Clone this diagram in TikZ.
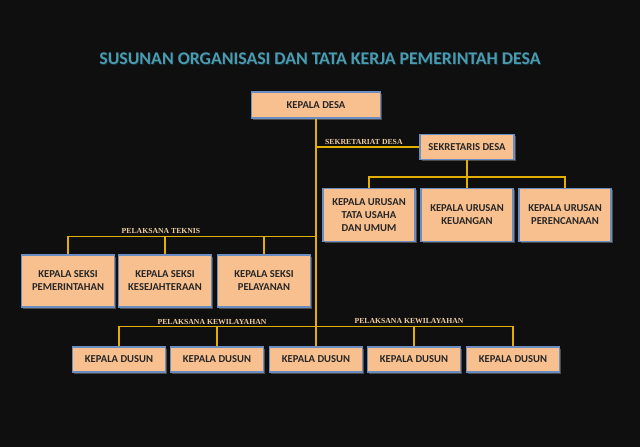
\documentclass[tikz,border=0pt]{standalone}
\usepackage{fontspec}
\setmainfont{Carlito}
\newfontfamily\lblfont{Liberation Serif}
\usetikzlibrary{shadows}
\definecolor{bgc}{HTML}{0F0F0F}
\definecolor{boxfill}{HTML}{F9C08F}
\definecolor{boxline}{HTML}{6A8EC2}
\definecolor{conn}{HTML}{E2B000}
\definecolor{titlec}{HTML}{4A9AB0}
\definecolor{lblc}{HTML}{EFCFA2}
\tikzset{
  orgbox/.style={draw=boxline, line width=1.3pt, fill=boxfill, font=\bfseries\fontsize{10.6}{13}\selectfont,
    text=black!85, align=center, inner sep=0pt,
    drop shadow={shadow xshift=1.6pt, shadow yshift=-1.6pt, fill=gray!60!black, opacity=1}},
  link/.style={draw=conn, line width=1.4pt},
  lbl/.style={text=lblc, font=\lblfont\bfseries\fontsize{7.7}{9}\selectfont, inner sep=0pt}
}
\begin{document}
\begin{tikzpicture}[x=1pt,y=-1pt]
\fill[bgc] (0,0) rectangle (640,447);
\useasboundingbox (0,0) rectangle (640,447);
\node[text=black!70!titlec, font=\bfseries\fontsize{17.8}{21}\selectfont] at (320.8,59.8) {SUSUNAN ORGANISASI DAN TATA KERJA PEMERINTAH DESA};
\node (title) [text=titlec, font=\bfseries\fontsize{17.8}{21}\selectfont] at (320,59) {SUSUNAN ORGANISASI DAN TATA KERJA PEMERINTAH DESA};

\node (kd) [orgbox, minimum width=129pt, minimum height=26pt] at (316,105) {KEPALA DESA};
\node (sd) [orgbox, minimum width=94pt, minimum height=25pt] at (467,147) {SEKRETARIS DESA};

\node (u1) [orgbox, minimum width=92pt, minimum height=53pt] at (369,215) {KEPALA URUSAN\\TATA USAHA\\DAN UMUM};
\node (u2) [orgbox, minimum width=92pt, minimum height=53pt] at (467,215) {KEPALA URUSAN\\KEUANGAN};
\node (u3) [orgbox, minimum width=92pt, minimum height=53pt] at (565,215) {KEPALA URUSAN\\PERENCANAAN};

\node (s1) [orgbox, minimum width=93pt, minimum height=52pt] at (68,281) {KEPALA SEKSI\\PEMERINTAHAN};
\node (s2) [orgbox, minimum width=93pt, minimum height=52pt] at (165,281) {KEPALA SEKSI\\KESEJAHTERAAN};
\node (s3) [orgbox, minimum width=93pt, minimum height=52pt] at (264,281) {KEPALA SEKSI\\PELAYANAN};

\node (d1) [orgbox, minimum width=93pt, minimum height=25pt] at (119,359.5) {KEPALA DUSUN};
\node (d2) [orgbox, minimum width=93pt, minimum height=25pt] at (217,359.5) {KEPALA DUSUN};
\node (d3) [orgbox, minimum width=93pt, minimum height=25pt] at (316,359.5) {KEPALA DUSUN};
\node (d4) [orgbox, minimum width=93pt, minimum height=25pt] at (414,359.5) {KEPALA DUSUN};
\node (d5) [orgbox, minimum width=93pt, minimum height=25pt] at (513,359.5) {KEPALA DUSUN};

\draw[link] (kd.south) -- (d3.north);
\draw[link] (kd.south |- sd.west) -- (sd.west);
\draw[link] (sd.south) -- (u2.north);
\draw[link] (u1.north) -- ++(0,-11) -| (u3.north);
\draw[link] (s1.north) -- ++(0,-18) -| (kd.south |- 0,237);
\draw[link] (s2.north) -- (s2.north |- 0,237);
\draw[link] (s3.north) -- (s3.north |- 0,237);
\draw[link] (d1.north) -- ++(0,-20) -| (d5.north);
\draw[link] (d2.north) -- (d2.north |- 0,327);
\draw[link] (d4.north) -- (d4.north |- 0,327);

\node (l1) [lbl, anchor=base west] at (325,144) {SEKRETARIAT DESA};
\node (l2) [lbl, anchor=base] at (161,233) {PELAKSANA TEKNIS};
\node (l3) [lbl, anchor=base] at (212,324) {PELAKSANA KEWILAYAHAN};
\node (l4) [lbl, anchor=base] at (409,323) {PELAKSANA KEWILAYAHAN};
\end{tikzpicture}
\end{document}
